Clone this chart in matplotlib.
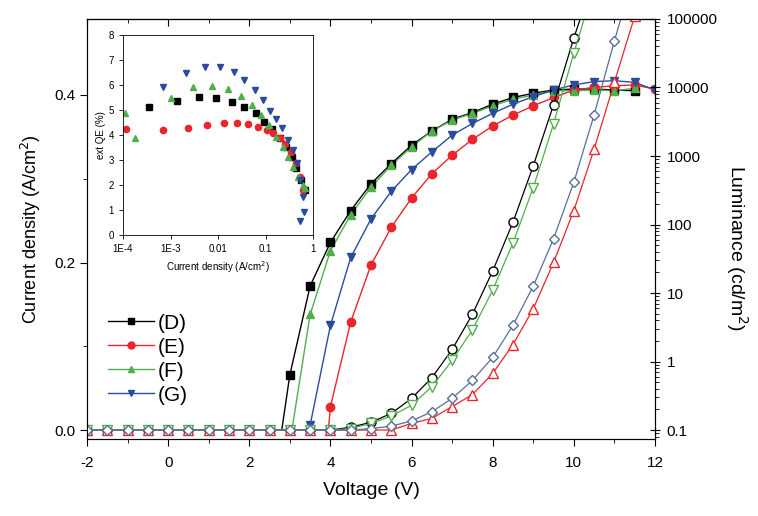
import matplotlib
matplotlib.use('Agg')
import matplotlib.pyplot as plt
from matplotlib.ticker import FixedLocator, LogLocator, NullFormatter, FuncFormatter, MultipleLocator

plt.rcParams['font.family'] = ['Liberation Sans', 'DejaVu Sans']
plt.rcParams['axes.unicode_minus'] = False

# colours of the four devices
colors = {'D': 'black', 'E': '#e8262b', 'F': '#4fb04a', 'G': '#2b4c9e'}
lum_edge = {'D': 'black', 'E': '#e8262b', 'F': '#4fb04a', 'G': '#5a6f96'}

# current density (A/cm2) vs voltage, filled symbols
onset = {'D': 2.8, 'E': 3.95, 'F': 3.05, 'G': 3.45}
v_j_D = [3.0, 3.5, 4.0, 4.5, 5.0, 5.5, 6.0, 6.5, 7.0, 7.5, 8.0, 8.5, 9.0, 9.5, 10.0, 10.5, 11.0, 11.5]
j_D = [0.066, 0.172, 0.224, 0.262, 0.294, 0.318, 0.340, 0.357, 0.371, 0.379, 0.389, 0.397, 0.402, 0.406, 0.407, 0.407, 0.406, 0.405]
v_j_E = [4.0, 4.5, 5.0, 5.5, 6.0, 6.5, 7.0, 7.5, 8.0, 8.5, 9.0, 9.5, 10.0, 10.5, 11.0, 11.5, 12.0]
j_E = [0.028, 0.129, 0.197, 0.242, 0.277, 0.306, 0.328, 0.347, 0.363, 0.376, 0.387, 0.397, 0.406, 0.409, 0.411, 0.412, 0.407]
v_j_F = [3.5, 4.0, 4.5, 5.0, 5.5, 6.0, 6.5, 7.0, 7.5, 8.0, 8.5, 9.0, 9.5, 10.0, 10.5, 11.0, 11.5]
j_F = [0.138, 0.214, 0.257, 0.290, 0.316, 0.338, 0.357, 0.370, 0.378, 0.387, 0.395, 0.400, 0.405, 0.405, 0.406, 0.405, 0.408]
v_j_G = [3.5, 4.0, 4.5, 5.0, 5.5, 6.0, 6.5, 7.0, 7.5, 8.0, 8.5, 9.0, 9.5, 10.0, 10.5, 11.0, 11.5, 12.0]
j_G = [0.006, 0.125, 0.206, 0.252, 0.285, 0.311, 0.332, 0.352, 0.366, 0.378, 0.389, 0.398, 0.406, 0.412, 0.416, 0.417, 0.415, 0.406]

# luminance (cd/m2) vs voltage, open symbols
v_all = [-2.0, -1.5, -1.0, -0.5, 0.0, 0.5, 1.0, 1.5, 2.0, 2.5, 3.0, 3.5, 4.0, 4.5, 5.0, 5.5,
         6.0, 6.5, 7.0, 7.5, 8.0, 8.5, 9.0, 9.5, 10.0, 10.5, 11.0, 11.5]
lum_D = [0.1] * 13 + [0.11, 0.13, 0.175, 0.29, 0.58, 1.5, 4.9, 21, 108, 720, 5600, 53000, 400000]
lum_E = [0.1] * 16 + [0.125, 0.148, 0.22, 0.33, 0.67, 1.77, 5.9, 28, 160, 1260, 12000, 110000]
lum_F = [0.1] * 13 + [0.105, 0.125, 0.16, 0.23, 0.43, 1.04, 2.9, 11, 54, 346, 2950, 32000, 300000]
lum_G = [0.1] * 14 + [0.105, 0.114, 0.136, 0.185, 0.29, 0.53, 1.15, 3.4, 12.6, 62, 415, 4000, 48000, 500000]

# inset: external QE (%) vs current density (A/cm2)
qe_x_D = [3.5e-4, 1.4e-3, 4.0e-3, 9.1e-3, 0.020, 0.036, 0.062, 0.095, 0.138, 0.20, 0.275, 0.363, 0.447, 0.562, 0.676]
qe_D = [5.13, 5.37, 5.5, 5.47, 5.31, 5.1, 4.87, 4.53, 4.23, 3.89, 3.53, 3.13, 2.67, 2.2, 1.8]
qe_x_E = [1.17e-4, 6.9e-4, 2.3e-3, 5.9e-3, 0.0132, 0.0245, 0.0427, 0.069, 0.105, 0.145, 0.20, 0.263, 0.339, 0.437, 0.525, 0.603]
qe_E = [4.23, 4.2, 4.29, 4.39, 4.49, 4.48, 4.44, 4.33, 4.2, 4.07, 3.87, 3.64, 3.33, 2.87, 2.33, 1.8]
qe_x_F = [1.1e-4, 1.8e-4, 1.0e-3, 2.95e-3, 7.6e-3, 0.0162, 0.031, 0.052, 0.081, 0.117, 0.17, 0.234, 0.295, 0.38, 0.479, 0.617, 0.661]
qe_F = [4.87, 3.87, 5.47, 5.9, 5.96, 5.83, 5.56, 5.2, 4.8, 4.4, 3.93, 3.53, 3.13, 2.73, 2.33, 2.0, 1.87]
qe_x_G = [6.8e-4, 2.14e-3, 5.2e-3, 0.011, 0.0214, 0.036, 0.059, 0.089, 0.126, 0.17, 0.224, 0.295, 0.38, 0.457, 0.525, 0.603, 0.631, 0.525]
qe_G = [5.93, 6.49, 6.73, 6.73, 6.53, 6.2, 5.8, 5.4, 4.96, 4.63, 4.27, 3.8, 3.4, 2.87, 2.2, 1.53, 0.9, 0.57]

labels = ['D', 'E', 'F', 'G']
j_data = {'D': (v_j_D, j_D), 'E': (v_j_E, j_E), 'F': (v_j_F, j_F), 'G': (v_j_G, j_G)}
lum_data = {'D': lum_D, 'E': lum_E, 'F': lum_F, 'G': lum_G}
qe_data = {'D': (qe_x_D, qe_D), 'E': (qe_x_E, qe_E), 'F': (qe_x_F, qe_F), 'G': (qe_x_G, qe_G)}
filled = {'D': 's', 'E': 'o', 'F': '^', 'G': 'v'}
hollow = {'D': 'o', 'E': '^', 'F': 'v', 'G': 'D'}

fig = plt.figure(figsize=(7.58, 5.16), dpi=100)
ax = fig.add_axes([0.1148, 0.1492, 0.7493, 0.8140])
ax2 = ax.twinx()

handles = []
for k in labels:
    v, j = j_data[k]
    ax.plot([onset[k]] + v, [0.0] + j, color=colors[k], lw=1.0, zorder=2)
    ax.plot(v, j, ls='none', marker=filled[k], color=colors[k], ms=6, zorder=3)
    h, = ax.plot([], [], color=colors[k], lw=1.0, marker=filled[k], ms=5, label='(%s)' % k)
    handles.append(h)

for k in labels:
    lum = lum_data[k]
    ax2.plot(v_all[:len(lum)], lum, color=lum_edge[k], lw=0.9, marker=hollow[k],
             ms=6.5 if hollow[k] != 'D' else 5.5, mfc='white', mec=lum_edge[k], mew=1.0)

ax.set_xlim(-2, 12)
ax.set_ylim(-0.0107, 0.4907)
ax.xaxis.set_major_locator(MultipleLocator(2))
ax.xaxis.set_minor_locator(MultipleLocator(1))
ax.yaxis.set_major_locator(FixedLocator([0.0, 0.2, 0.4]))
ax.yaxis.set_minor_locator(FixedLocator([0.1, 0.3]))
ax.yaxis.set_major_formatter(FuncFormatter(lambda y, p: '%.1f' % y))
ax.tick_params(axis='both', which='major', labelsize=11, length=5, direction='out')
ax.tick_params(axis='both', which='minor', length=3, direction='out')
ax.tick_params(axis='x', which='major', pad=7)
ax.set_xlabel('Voltage (V)', fontsize=14, labelpad=9)
ax.set_ylabel('Current density (A/cm$^2$)', fontsize=13, labelpad=8)

top = ax.secondary_xaxis('top')
top.xaxis.set_major_locator(MultipleLocator(2))
top.xaxis.set_minor_locator(MultipleLocator(1))
top.tick_params(which='major', direction='in', length=5, labeltop=False)
top.tick_params(which='minor', direction='in', length=3)

ax2.set_yscale('log')
ax2.set_ylim(0.074, 1e5)
ax2.yaxis.set_major_locator(LogLocator(base=10, numticks=10))
ax2.yaxis.set_minor_locator(LogLocator(base=10, subs=range(2, 10), numticks=10))
ax2.yaxis.set_major_formatter(FuncFormatter(lambda y, p: '%g' % y))
ax2.yaxis.set_minor_formatter(NullFormatter())
ax2.tick_params(axis='y', which='major', labelsize=11, length=7, direction='inout', pad=5)
ax2.tick_params(axis='y', which='minor', length=3, direction='out')
ax2.set_ylabel('Luminance (cd/m$^2$)', fontsize=14, rotation=270, va='center')
ax2.yaxis.set_label_coords(1.145, 0.455)

ax.legend(handles=handles, loc='upper left', bbox_to_anchor=(0.022, 0.318), frameon=False,
          fontsize=15, handlelength=2.2, handletextpad=0.2, labelspacing=0.24, borderaxespad=0)

# inset
ins = fig.add_axes([0.1623, 0.5446, 0.2507, 0.3876])
for k in labels:
    x, q = qe_data[k]
    ins.plot(x, q, ls='none', marker=filled[k], color=colors[k], ms=4.5)
ins.set_xscale('log')
ins.set_xlim(1e-4, 1)
ins.set_ylim(0, 8)
ins.xaxis.set_major_locator(FixedLocator([1e-4, 1e-3, 1e-2, 1e-1, 1]))
ins.xaxis.set_major_formatter(FuncFormatter(lambda x, p: {1e-4: '1E-4', 1e-3: '1E-3', 1e-2: '0.01', 1e-1: '0.1', 1: '1'}.get(x, '')))
ins.xaxis.set_minor_locator(FixedLocator([]))
ins.yaxis.set_major_locator(MultipleLocator(1))
ins.tick_params(labelsize=7, length=3, direction='out', width=0.6)
for s in ins.spines.values():
    s.set_linewidth(0.6)
ins.set_xlabel('Current density (A/cm$^2$)', fontsize=7, labelpad=4)
ins.set_ylabel('ext QE (%)', fontsize=7, labelpad=2)

fig.savefig('out.png', dpi=100)
